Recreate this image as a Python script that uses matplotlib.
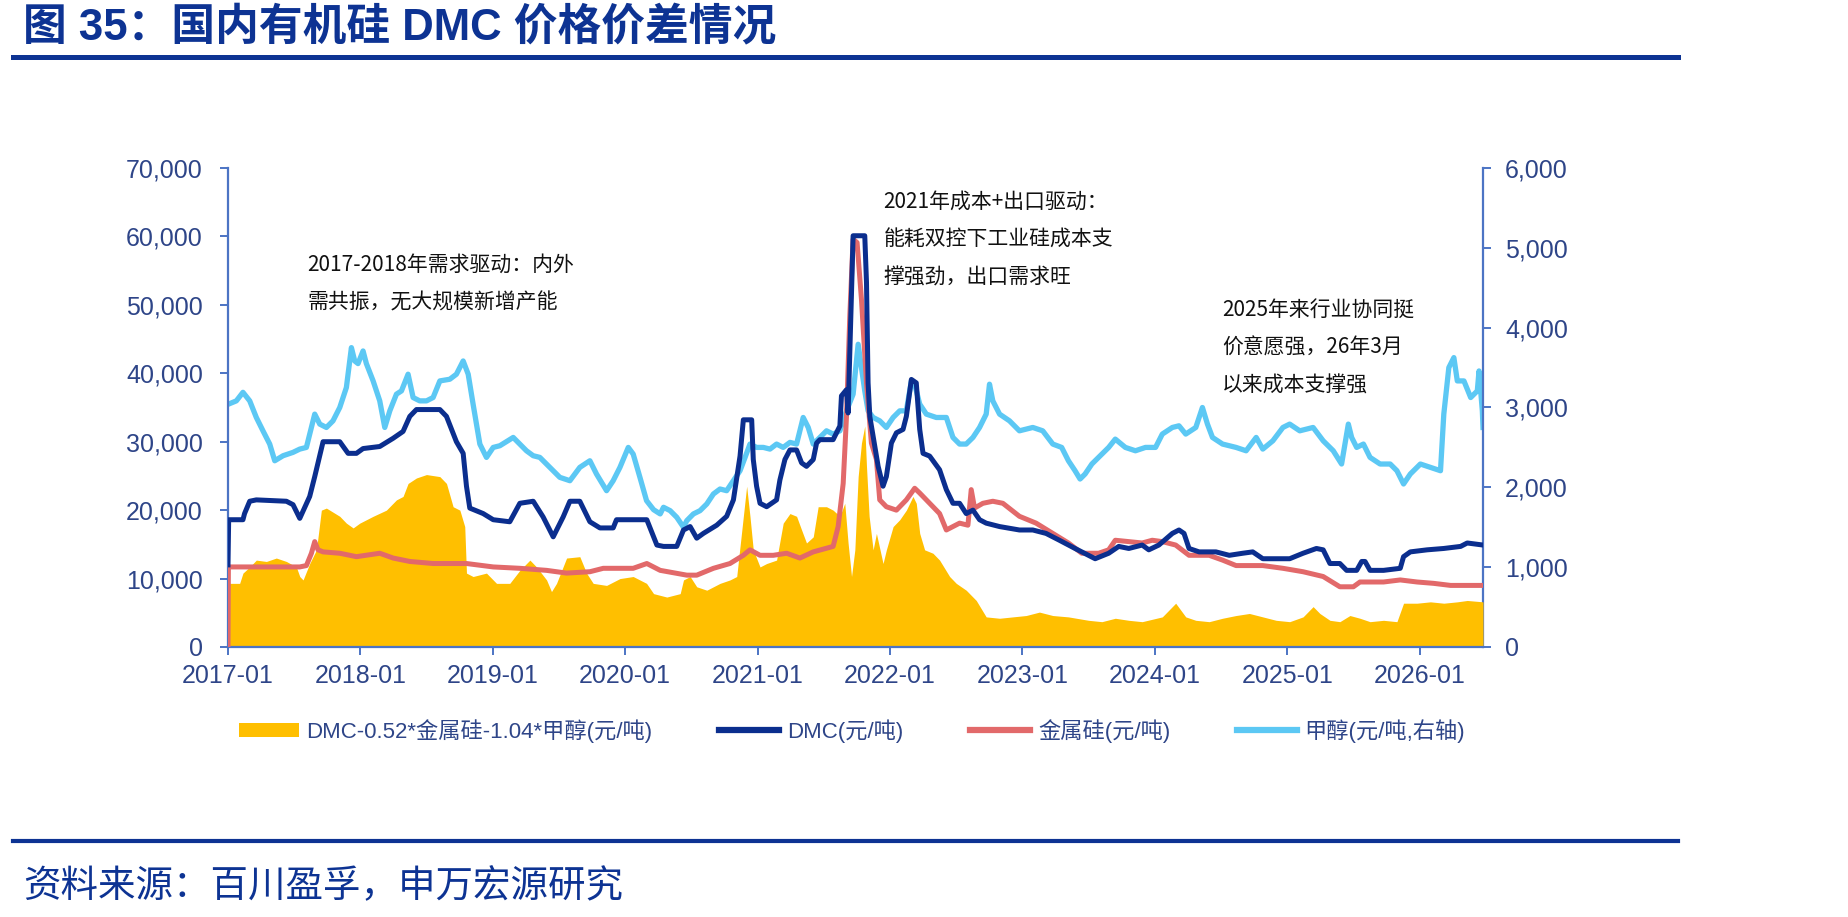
import matplotlib
matplotlib.use("Agg")
import matplotlib.pyplot as plt
from matplotlib.patches import Patch
from matplotlib.lines import Line2D
import numpy as np

plt.rcParams['font.family'] = ['Liberation Sans', 'Noto Sans CJK SC', 'DejaVu Sans']

# ---------------- data (x in decimal years) ----------------
dmc_t = [2017.000, 2017.005, 2017.113, 2017.125, 2017.164, 2017.214, 2017.441, 2017.491, 2017.542,
         2017.617, 2017.655, 2017.718, 2017.844, 2017.907, 2017.970, 2018.020, 2018.146, 2018.247,
         2018.322, 2018.373, 2018.423, 2018.600, 2018.650, 2018.725, 2018.776, 2018.801, 2018.826,
         2018.927, 2019.003, 2019.128, 2019.204, 2019.305, 2019.380, 2019.456, 2019.531, 2019.582,
         2019.657, 2019.733, 2019.809, 2019.909, 2019.934, 2020.060, 2020.163, 2020.214, 2020.239,
         2020.289, 2020.389, 2020.440, 2020.490, 2020.540, 2020.590, 2020.691, 2020.766, 2020.817,
         2020.867, 2020.892, 2020.955, 2020.967, 2020.992, 2021.018, 2021.068, 2021.143, 2021.168,
         2021.206, 2021.244, 2021.294, 2021.332, 2021.369, 2021.420, 2021.445, 2021.470, 2021.570,
         2021.621, 2021.633, 2021.671, 2021.683, 2021.721, 2021.809, 2021.822, 2021.834, 2021.847,
         2021.872, 2021.910, 2021.947, 2021.972, 2022.010, 2022.048, 2022.098, 2022.123, 2022.161,
         2022.198, 2022.224, 2022.249, 2022.299, 2022.374, 2022.425, 2022.475, 2022.525, 2022.575,
         2022.626, 2022.676, 2022.726, 2022.827, 2022.977, 2023.078, 2023.178, 2023.279, 2023.397,
         2023.549, 2023.651, 2023.727, 2023.803, 2023.904, 2023.954, 2024.030, 2024.132, 2024.182,
         2024.220, 2024.258, 2024.334, 2024.461, 2024.562, 2024.663, 2024.739, 2024.815, 2025.018,
         2025.119, 2025.220, 2025.271, 2025.322, 2025.397, 2025.448, 2025.524, 2025.562, 2025.587,
         2025.625, 2025.727, 2025.853, 2025.878, 2025.929, 2026.056, 2026.182, 2026.309, 2026.359,
         2026.478]
dmc_v = [12000, 18600, 18600, 19500, 21300, 21500, 21300, 20800, 18800,
         22000, 24900, 30000, 30000, 28300, 28300, 29000, 29300, 30500,
         31500, 33700, 34700, 34700, 33700, 30000, 28300, 23500, 20300,
         19500, 18600, 18300, 21000, 21300, 19000, 16100, 19000, 21300,
         21300, 18300, 17400, 17400, 18600, 18600, 18600, 16100, 14900,
         14700, 14700, 17100, 17600, 15900, 16600, 17800, 19100, 21500,
         27900, 33200, 33200, 27400, 23500, 21000, 20500, 21500, 24400,
         27400, 28800, 28800, 26900, 26400, 27400, 29800, 30300, 30300,
         32300, 36700, 37600, 34200, 60100, 60100, 53300, 38600, 33700,
         30800, 26400, 23500, 24900, 29800, 31300, 31800, 33700, 39100,
         38600, 31800, 28300, 27900, 25900, 23000, 21000, 21000, 19500,
         20000, 18600, 18100, 17600, 17100, 17100, 16600, 15600, 14400,
         12900, 13700, 14700, 14400, 14900, 14200, 14900, 16600, 17100,
         16600, 14400, 13900, 13900, 13400, 13700, 13900, 12900, 12900,
         13700, 14400, 14200, 12200, 12200, 11200, 11200, 12500, 12500,
         11200, 11200, 11500, 13200, 13900, 14200, 14400, 14700, 15200,
         14900]

si_t = [2017.000, 2017.003, 2017.542, 2017.592, 2017.630, 2017.655, 2017.680, 2017.718, 2017.844,
        2017.970, 2018.146, 2018.247, 2018.373, 2018.549, 2018.801, 2019.003, 2019.204, 2019.406,
        2019.557, 2019.733, 2019.834, 2020.060, 2020.163, 2020.264, 2020.465, 2020.540, 2020.666,
        2020.791, 2020.892, 2020.942, 2021.018, 2021.118, 2021.219, 2021.319, 2021.420, 2021.570,
        2021.608, 2021.646, 2021.671, 2021.696, 2021.721, 2021.751, 2021.784, 2021.822, 2021.859,
        2021.897, 2021.922, 2021.972, 2022.048, 2022.123, 2022.186, 2022.224, 2022.299, 2022.374,
        2022.425, 2022.475, 2022.525, 2022.588, 2022.613, 2022.638, 2022.701, 2022.776, 2022.852,
        2022.977, 2023.103, 2023.229, 2023.347, 2023.448, 2023.575, 2023.651, 2023.701, 2023.803,
        2023.904, 2023.980, 2024.056, 2024.157, 2024.258, 2024.410, 2024.511, 2024.613, 2024.815,
        2024.967, 2025.119, 2025.271, 2025.397, 2025.499, 2025.549, 2025.727, 2025.853, 2025.980,
        2026.106, 2026.233, 2026.478]
si_v = [0, 11700, 11700, 11900, 13700, 15400, 14200, 13900, 13700,
        13200, 13700, 13000, 12500, 12200, 12200, 11700, 11500, 11200,
        10800, 11000, 11500, 11500, 12200, 11200, 10500, 10500, 11500,
        12200, 13400, 14200, 13400, 13400, 13700, 13000, 13900, 14700,
        17600, 23900, 33700, 48400, 59600, 59100, 50800, 38600, 29800,
        27400, 21500, 20500, 20000, 21500, 23200, 22500, 21000, 19500,
        17100, 17600, 18100, 17800, 23000, 20300, 21000, 21300, 21000,
        19100, 18100, 16600, 15200, 13700, 13700, 14200, 15600, 15400,
        15200, 15600, 15400, 14900, 13400, 13400, 12700, 11900, 11900,
        11500, 11000, 10300, 8800, 8800, 9500, 9500, 9800, 9500,
        9300, 9000, 9000]

meoh_t = [2017.000, 2017.063, 2017.113, 2017.164, 2017.214, 2017.264, 2017.315, 2017.353, 2017.416,
          2017.491, 2017.542, 2017.592, 2017.655, 2017.693, 2017.743, 2017.793, 2017.844, 2017.894,
          2017.932, 2017.957, 2017.982, 2018.020, 2018.045, 2018.096, 2018.146, 2018.184, 2018.222,
          2018.272, 2018.310, 2018.360, 2018.398, 2018.448, 2018.499, 2018.549, 2018.600, 2018.675,
          2018.725, 2018.776, 2018.814, 2018.851, 2018.902, 2018.952, 2019.003, 2019.053, 2019.154,
          2019.204, 2019.254, 2019.305, 2019.355, 2019.431, 2019.506, 2019.582, 2019.657, 2019.733,
          2019.783, 2019.859, 2019.909, 2019.960, 2020.023, 2020.060, 2020.111, 2020.161, 2020.214,
          2020.264, 2020.289, 2020.339, 2020.389, 2020.440, 2020.465, 2020.515, 2020.565, 2020.616,
          2020.666, 2020.716, 2020.766, 2020.817, 2020.867, 2020.905, 2020.942, 2020.992, 2021.043,
          2021.093, 2021.143, 2021.193, 2021.244, 2021.294, 2021.344, 2021.382, 2021.420, 2021.470,
          2021.520, 2021.570, 2021.621, 2021.671, 2021.721, 2021.759, 2021.784, 2021.809, 2021.834,
          2021.872, 2021.922, 2021.972, 2022.023, 2022.073, 2022.123, 2022.161, 2022.186, 2022.224,
          2022.274, 2022.349, 2022.425, 2022.475, 2022.525, 2022.575, 2022.626, 2022.676, 2022.726,
          2022.751, 2022.776, 2022.827, 2022.902, 2022.977, 2023.078, 2023.153, 2023.229, 2023.296,
          2023.347, 2023.397, 2023.435, 2023.473, 2023.524, 2023.575, 2023.651, 2023.701, 2023.777,
          2023.853, 2023.929, 2024.005, 2024.056, 2024.132, 2024.182, 2024.233, 2024.309, 2024.359,
          2024.397, 2024.435, 2024.511, 2024.613, 2024.689, 2024.765, 2024.815, 2024.891, 2024.967,
          2025.018, 2025.094, 2025.195, 2025.271, 2025.347, 2025.410, 2025.461, 2025.486, 2025.524,
          2025.575, 2025.625, 2025.701, 2025.777, 2025.828, 2025.878, 2025.929, 2026.005, 2026.081,
          2026.157, 2026.182, 2026.220, 2026.258, 2026.284, 2026.334, 2026.385, 2026.435, 2026.448,
          2026.473, 2026.478]
meoh_v = [3040, 3083, 3190, 3083, 2875, 2708, 2542, 2333, 2396,
          2438, 2479, 2500, 2917, 2792, 2750, 2833, 3000, 3250,
          3750, 3583, 3550, 3708, 3550, 3333, 3083, 2750, 2958,
          3167, 3208, 3417, 3125, 3083, 3083, 3125, 3333, 3354,
          3417, 3583, 3417, 3042, 2542, 2375, 2500, 2521, 2625,
          2542, 2458, 2396, 2375, 2250, 2125, 2083, 2250, 2333,
          2167, 1958, 2083, 2250, 2500, 2417, 2125, 1833, 1720,
          1667, 1750, 1708, 1625, 1500, 1583, 1667, 1708, 1792,
          1917, 1979, 1958, 2083, 2208, 2375, 2542, 2500, 2500,
          2479, 2542, 2500, 2563, 2542, 2875, 2750, 2542, 2625,
          2708, 2667, 2708, 2958, 3167, 3792, 3500, 3208, 2958,
          2875, 2833, 2750, 2875, 2958, 2958, 3333, 3292, 3042,
          2917, 2875, 2875, 2625, 2542, 2542, 2625, 2750, 2917,
          3292, 3083, 2917, 2833, 2708, 2750, 2708, 2542, 2500,
          2333, 2208, 2104, 2167, 2292, 2375, 2500, 2604, 2500,
          2458, 2500, 2500, 2667, 2750, 2771, 2667, 2750, 3000,
          2792, 2625, 2542, 2500, 2458, 2625, 2479, 2583, 2750,
          2792, 2708, 2750, 2583, 2458, 2292, 2792, 2625, 2500,
          2542, 2375, 2292, 2292, 2208, 2042, 2167, 2292, 2250,
          2208, 2917, 3500, 3625, 3333, 3333, 3125, 3208, 3458,
          2958, 2750]

spread_t = [2017.000, 2017.088, 2017.113, 2017.164, 2017.214, 2017.290, 2017.365, 2017.441, 2017.516,
            2017.542, 2017.567, 2017.617, 2017.668, 2017.705, 2017.743, 2017.844, 2017.894, 2017.945,
            2017.995, 2018.096, 2018.196, 2018.272, 2018.322, 2018.360, 2018.423, 2018.499, 2018.600,
            2018.650, 2018.700, 2018.751, 2018.788, 2018.801, 2018.851, 2018.952, 2019.028, 2019.128,
            2019.204, 2019.280, 2019.330, 2019.406, 2019.443, 2019.481, 2019.557, 2019.657, 2019.708,
            2019.758, 2019.859, 2019.960, 2020.060, 2020.161, 2020.214, 2020.314, 2020.415, 2020.440,
            2020.490, 2020.540, 2020.616, 2020.716, 2020.791, 2020.842, 2020.892, 2020.917, 2020.942,
            2020.967, 2021.018, 2021.068, 2021.143, 2021.193, 2021.244, 2021.294, 2021.332, 2021.369,
            2021.420, 2021.457, 2021.520, 2021.570, 2021.621, 2021.658, 2021.683, 2021.709, 2021.734,
            2021.759, 2021.784, 2021.809, 2021.822, 2021.842, 2021.872, 2021.897, 2021.947, 2021.972,
            2022.023, 2022.073, 2022.123, 2022.173, 2022.198, 2022.224, 2022.261, 2022.324, 2022.374,
            2022.450, 2022.500, 2022.575, 2022.651, 2022.726, 2022.827, 2022.927, 2023.028, 2023.128,
            2023.229, 2023.347, 2023.499, 2023.600, 2023.701, 2023.803, 2023.904, 2024.056, 2024.157,
            2024.195, 2024.233, 2024.309, 2024.410, 2024.511, 2024.613, 2024.714, 2024.815, 2024.916,
            2025.018, 2025.119, 2025.195, 2025.246, 2025.322, 2025.397, 2025.473, 2025.549, 2025.625,
            2025.727, 2025.828, 2025.878, 2025.980, 2026.081, 2026.182, 2026.284, 2026.359, 2026.478]
spread_v = [9300, 9300, 10800, 11700, 12700, 12500, 13000, 12500, 11700,
            10300, 9800, 12200, 14200, 20000, 20300, 19100, 18100, 17400,
            18100, 19100, 20000, 21500, 22000, 23900, 24700, 25200, 24900,
            23900, 20500, 20000, 17600, 10800, 10300, 10800, 9300, 9300,
            11200, 12700, 11700, 9800, 8100, 9300, 13000, 13200, 10800,
            9300, 9000, 10000, 10300, 9300, 7800, 7300, 7800, 9800,
            10300, 8800, 8300, 9300, 9800, 10300, 19100, 23500, 19100,
            14200, 11700, 12200, 12700, 18100, 19500, 19100, 17100, 15200,
            16100, 20500, 20500, 20000, 19100, 21000, 15200, 10300, 14200,
            24900, 29800, 32300, 26400, 19100, 14200, 16600, 12200, 14200,
            17600, 18600, 20000, 22000, 21000, 16600, 14200, 13700, 12700,
            10300, 9300, 8300, 6800, 4400, 4200, 4400, 4600, 5100,
            4600, 4400, 3900, 3700, 4200, 3900, 3700, 4400, 6400,
            5400, 4400, 3900, 3700, 4200, 4600, 4900, 4400, 3900,
            3700, 4400, 5900, 4900, 3900, 3700, 4600, 4200, 3700,
            3900, 3700, 6400, 6400, 6600, 6400, 6600, 6800, 6600]

year_ticks = [2017, 2018, 2019, 2020, 2021, 2022, 2023, 2024, 2025, 2026]
year_labels = [f"{y}-01" for y in year_ticks]
left_ticks = [0, 10000, 20000, 30000, 40000, 50000, 60000, 70000]
right_ticks = [0, 1000, 2000, 3000, 4000, 5000, 6000]

legend_labels = ["DMC-0.52*金属硅-1.04*甲醇(元/吨)", "DMC(元/吨)", "金属硅(元/吨)", "甲醇(元/吨,右轴)"]

title_text = "图 35：国内有机硅 DMC 价格价差情况"
source_text = "资料来源：百川盈孚，申万宏源研究"
notes = [
    (2017.6, 57500, "2017-2018年需求驱动：内外\n需共振，无大规模新增产能"),
    (2021.95, 66700, "2021年成本+出口驱动：\n能耗双控下工业硅成本支\n撑强劲，出口需求旺"),
    (2024.51, 50900, "2025年来行业协同挺\n价意愿强，26年3月\n以来成本支撑强"),
]

# ---------------- style ----------------
C_ORANGE = '#FFBF00'
C_DMC = '#0B2E8E'
C_SI = '#E2696A'
C_MEOH = '#5CC8F4'
C_SPINE = '#4C74C4'
C_TICK = '#2E4588'
C_TITLE = '#0D3393'

W, H = 1849, 917
fig = plt.figure(figsize=(W / 100, H / 100), dpi=100)

ax_l, ax_r, ax_b, ax_t = 228, 1483, 647, 168
ax = fig.add_axes([ax_l / W, 1 - ax_b / H, (ax_r - ax_l) / W, (ax_b - ax_t) / H])
ax2 = ax.twinx()

ax.fill_between(spread_t, 0, spread_v, color=C_ORANGE, lw=0, zorder=1)
ax.plot(si_t, si_v, color=C_SI, lw=3.6, zorder=3, solid_joinstyle='round')
ax.plot(dmc_t, dmc_v, color=C_DMC, lw=3.6, zorder=4, solid_joinstyle='round')
ax2.plot(meoh_t, meoh_v, color=C_MEOH, lw=3.8, zorder=2, solid_joinstyle='round')

ax.set_zorder(ax2.get_zorder() + 1)
ax.patch.set_visible(False)

xmin, xmax = 2017.0, 2026.478
ax.set_xlim(xmin, xmax)
ax.set_ylim(0, 70000)
ax2.set_ylim(0, 6000)

ax.set_xticks(year_ticks)
ax.set_xticklabels(year_labels)
ax.set_yticks(left_ticks)
ax.set_yticklabels([f"{v:,}" for v in left_ticks])
ax2.set_yticks(right_ticks)
ax2.set_yticklabels([f"{v:,}" for v in right_ticks])

for a in (ax, ax2):
    for s in a.spines.values():
        s.set_visible(False)
ax.spines['left'].set_visible(True)
ax.spines['bottom'].set_visible(True)
ax2.spines['right'].set_visible(True)
for s in (ax.spines['left'], ax.spines['bottom'], ax2.spines['right']):
    s.set_color(C_SPINE)
    s.set_linewidth(1.6)

ax.tick_params(axis='both', colors=C_SPINE, labelcolor=C_TICK, labelsize=18,
               length=6, width=1.4, direction='out')
ax.tick_params(axis='x', pad=6)
ax.tick_params(axis='y', pad=12)
ax2.tick_params(axis='y', colors=C_SPINE, labelcolor=C_TICK, labelsize=18,
                length=6, width=1.4, direction='out', pad=10)

for x, y, txt in notes:
    ax.text(x, y, txt, fontsize=15, color='#111111', family=['Noto Sans CJK SC'],
            ha='left', va='top', linespacing=1.95, zorder=6)

# legend
handles = [Patch(facecolor=C_ORANGE, edgecolor='none'),
           Line2D([0], [0], color=C_DMC, lw=4.5),
           Line2D([0], [0], color=C_SI, lw=4.5),
           Line2D([0], [0], color=C_MEOH, lw=4.5)]
leg = fig.legend(handles, legend_labels, loc='center', bbox_to_anchor=(852 / W, 1 - 731 / H),
                 ncol=4, frameon=False, fontsize=16, handlelength=2.7, handleheight=0.6,
                 handletextpad=0.35, columnspacing=3.0)
for t in leg.get_texts():
    t.set_color(C_TICK)

# title, rules, source
fig.text(23 / W, 1 - 28 / H, title_text, fontsize=31.5, fontweight='bold', color=C_TITLE,
         ha='left', va='center')
fig.add_artist(Line2D([13 / W, 1678 / W], [1 - 57 / H, 1 - 57 / H], color=C_TITLE, lw=3.6))
fig.add_artist(Line2D([13 / W, 1678 / W], [1 - 841 / H, 1 - 841 / H], color=C_TITLE, lw=3.0))
fig.text(23 / W, 1 - 887 / H, source_text, fontsize=27, color=C_TITLE,
         family=['Noto Sans CJK SC'], ha='left', va='center')

fig.savefig('out.png', dpi=100)
